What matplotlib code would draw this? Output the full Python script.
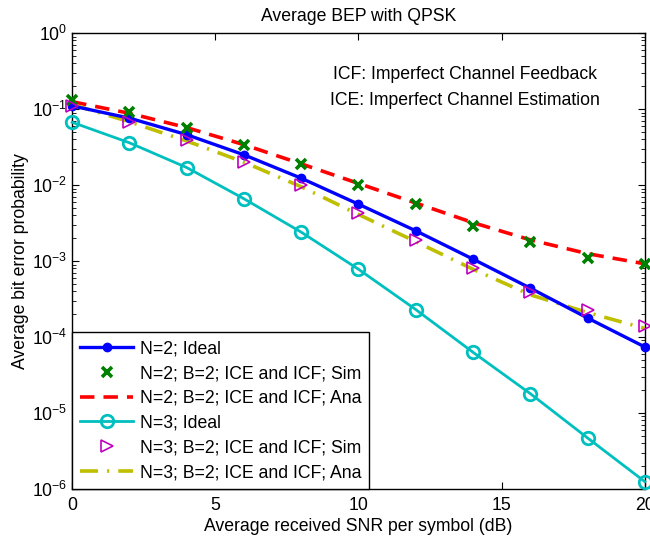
import matplotlib.pyplot as plt

plt.rcParams['font.family'] = ['Liberation Sans', 'DejaVu Sans']
plt.rcParams['mathtext.fontset'] = 'custom'
plt.rcParams['mathtext.rm'] = 'Liberation Sans'

snr = [0, 2, 4, 6, 8, 10, 12, 14, 16, 18, 20]

n2_ideal = [0.11, 0.076, 0.046, 0.025, 0.0123, 0.0056, 0.0025, 0.00106, 0.00044, 0.000178, 0.000074]
n2_sim = [0.13, 0.091, 0.056, 0.034, 0.019, 0.010, 0.0056, 0.0029, 0.0018, 0.0011, 0.00091]
n2_ana = [0.125, 0.088, 0.057, 0.034, 0.019, 0.0105, 0.0058, 0.0032, 0.0019, 0.00125, 0.00092]
n3_ideal = [0.067, 0.036, 0.017, 0.0066, 0.0024, 0.00078, 0.00023, 0.000063, 0.000018, 0.0000047, 0.00000125]
n3_sim = [0.11, 0.067, 0.039, 0.020, 0.0100, 0.0043, 0.0019, 0.00081, 0.00039, 0.00023, 0.00014]
n3_ana = [0.115, 0.068, 0.038, 0.020, 0.0095, 0.0041, 0.0018, 0.00078, 0.00036, 0.00021, 0.00013]

labels = ["N=2; Ideal", "N=2; B=2; ICE and ICF; Sim", "N=2; B=2; ICE and ICF; Ana",
          "N=3; Ideal", "N=3; B=2; ICE and ICF; Sim", "N=3; B=2; ICE and ICF; Ana"]

fs = 12.7

fig = plt.figure(figsize=(6.5, 5.37), dpi=100)
ax = fig.add_axes([0.111, 0.0894, 0.881, 0.849])

ax.semilogy(snr, n2_ideal, '-o', color=(0, 0, 1), lw=2.4, ms=6, label=labels[0], clip_on=False, zorder=4)
ax.semilogy(snr, n2_sim, 'x', color=(0, 0.5, 0), ms=7.5, mew=2.6, label=labels[1], clip_on=False, zorder=5)
ax.semilogy(snr, n2_ana, '--', color=(1, 0, 0), lw=2.6, dashes=(4, 2.5), label=labels[2], zorder=3)
ax.semilogy(snr, n3_ideal, '-o', color=(0, 0.75, 0.75), lw=2.0, ms=9, mfc='none', mew=2.0,
            label=labels[3], clip_on=False, zorder=4)
ax.semilogy(snr, n3_sim, '>', color=(0.75, 0, 0.75), ms=8, mfc='none', mew=1.2, label=labels[4],
            clip_on=False, zorder=5)
ax.semilogy(snr, n3_ana, '-.', color=(0.75, 0.75, 0), lw=2.6, dashes=(5, 2.5, 0.6, 2.5), label=labels[5], zorder=3)

ax.set_xlim(0, 20)
ax.set_ylim(1e-6, 1)
ax.set_xticks([0, 5, 10, 15, 20])
ax.tick_params(which='both', direction='in', top=True, right=True, labelsize=fs)
ax.tick_params(which='major', length=5)
ax.tick_params(which='minor', length=3)
ax.tick_params(axis='x', pad=6)

ax.set_title("Average BEP with QPSK", fontsize=fs, pad=9)
ax.set_xlabel("Average received SNR per symbol (dB)", fontsize=fs, labelpad=3)
ax.set_ylabel("Average bit error probability", fontsize=fs, labelpad=2)

ax.text(0.686, 0.91, "ICF: Imperfect Channel Feedback", transform=ax.transAxes,
        ha='center', va='center', fontsize=fs)
ax.text(0.686, 0.853, "ICE: Imperfect Channel Estimation", transform=ax.transAxes,
        ha='center', va='center', fontsize=fs)

leg = ax.legend(loc='lower left', fontsize=fs, frameon=True, fancybox=False, framealpha=1,
                edgecolor='black', borderaxespad=0, handlelength=3.0, labelspacing=0.44,
                handletextpad=0.4, borderpad=0.45)
leg.get_frame().set_linewidth(1.0)
leg.set_zorder(10)

for s in ax.spines.values():
    s.set_linewidth(1.0)

fig.savefig("out.png", dpi=100)
